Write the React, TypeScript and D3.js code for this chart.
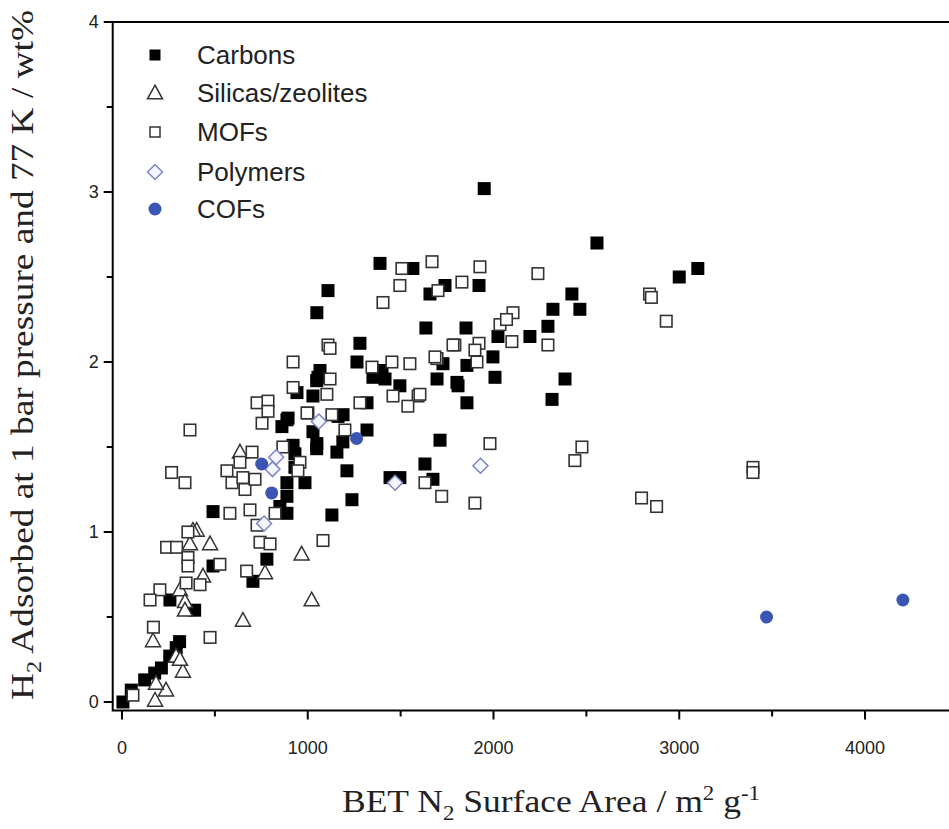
import React from "react";
import * as d3 from "d3";

const carbons: [number, number][] = [
  [1950,3.02],[2557,2.70],[3000,2.50],[3100,2.55],[1389,2.58],[1566,2.55],[1109,2.42],[1049,2.29],
  [1658,2.40],[1739,2.45],[1922,2.45],[2422,2.40],[2320,2.31],[2465,2.31],[2293,2.21],[2196,2.15],
  [2024,2.15],[1636,2.20],[1852,2.20],[1997,2.03],[1857,1.98],[1728,1.99],[1696,1.90],[1809,1.86],
  [1857,1.76],[2008,1.91],[2385,1.90],[2315,1.78],[1712,1.54],[1631,1.40],[1674,1.31],[1496,1.32],
  [1443,1.32],[1281,2.11],[1265,2.00],[1400,1.95],[1416,1.90],[1351,1.91],[1496,1.86],[1803,1.88],
  [1066,1.95],[1055,1.91],[942,1.82],[1028,1.80],[1190,1.69],[1319,1.76],[888,1.66],[861,1.62],
  [894,1.67],[1028,1.59],[1319,1.60],[1049,1.52],[1157,1.47],[1189,1.53],[1211,1.36],[1238,1.19],
  [921,1.51],[931,1.46],[931,1.38],[985,1.29],[888,1.29],[888,1.21],[888,1.11],[850,1.15],
  [1130,1.10],[490,1.12],[780,0.84],[705,0.71],[490,0.80],[258,0.60],[391,0.54],[310,0.355],
  [292,0.32],[257,0.27],[212,0.20],[176,0.17],[122,0.13],[50,0.07],[5,0.0],[1048,1.49],[1163,1.68],
  [1048,1.89]
];

const silicas: [number, number][] = [
  [366,0.93],[474,0.93],[436,0.74],[312,0.66],[339,0.59],[339,0.54],[651,0.48],[167,0.36],
  [291,0.27],[328,0.18],[237,0.07],[178,0.01],[770,0.76],[183,0.11],[967,0.87],[1021,0.60],
  [402,1.01],[635,1.47],[382,1.01],[312,0.25]
];

const mofs: [number, number][] = [
  [366,1.60],[267,1.35],[339,1.29],[727,1.76],[786,1.77],[786,1.71],[754,1.64],[1001,1.70],
  [1200,1.60],[635,1.41],[565,1.36],[592,1.29],[651,1.32],[662,1.25],[716,1.31],[700,1.47],
  [866,1.50],[958,1.41],[947,1.36],[581,1.11],[689,1.13],[727,1.04],[743,0.94],[797,0.93],
  [824,1.11],[1082,0.95],[355,1.00],[240,0.91],[294,0.91],[355,0.85],[355,0.80],[527,0.81],
  [671,0.77],[420,0.69],[204,0.66],[151,0.60],[169,0.44],[474,0.38],[59,0.04],[345,0.70],
  [1109,2.10],[921,2.00],[1346,1.97],[1453,2.00],[1550,1.99],[1459,1.80],[1594,1.80],[1539,1.74],
  [1120,1.90],[921,1.85],[1103,1.81],[1281,1.76],[1130,1.69],[996,1.70],[1507,2.55],[1669,2.59],
  [1496,2.45],[1405,2.35],[1701,2.42],[1830,2.47],[1927,2.56],[2239,2.52],[2293,2.10],[2099,2.12],
  [2035,2.22],[2105,2.29],[2070,2.25],[1792,2.10],[1922,2.11],[1900,2.07],[1911,2.00],[1696,2.02],
  [1782,2.10],[1685,2.03],[1604,1.81],[1981,1.52],[2476,1.50],[2438,1.42],[1721,1.21],[1900,1.17],
  [1631,1.29],[2797,1.20],[2878,1.15],[3397,1.38],[3397,1.35],[2840,2.40],[2850,2.38],[2930,2.24],
  [1120,2.08]
];

const polymers: [number, number][] = [
  [1060,1.65],[830,1.44],[810,1.37],[765,1.05],[1470,1.29],[1930,1.39]
];

const cofs: [number, number][] = [
  [752,1.40],[806,1.23],[1263,1.55],[3470,0.50],[4204,0.60]
];

const xTicks = [0, 1000, 2000, 3000, 4000];
const xMinorTicks = [500, 1500, 2500, 3500, 4500];
const yTicks = [0, 1, 2, 3, 4];
const yMinorTicks = [0.5, 1.5, 2.5, 3.5];
const legendLabels = ["Carbons", "Silicas/zeolites", "MOFs", "Polymers", "COFs"];

const W = 949;
const H = 829;

const x = d3.scaleLinear().domain([0, 4000]).range([122, 865]);
const y = d3.scaleLinear().domain([0, 4]).range([702, 22]);

const SQ = 13;
const BLUE = "#3b56b2";
const DIAMOND = "#7d84c4";

function Square({ cx, cy, filled }: { cx: number; cy: number; filled: boolean }) {
  return filled ? (
    <rect x={cx - SQ / 2} y={cy - SQ / 2} width={SQ} height={SQ} fill="#000" />
  ) : (
    <rect x={cx - SQ / 2 + 0.75} y={cy - SQ / 2 + 0.75} width={SQ - 1.5} height={SQ - 1.5} fill="#fff" stroke="#333" strokeWidth={1.6} />
  );
}

function Triangle({ cx, cy }: { cx: number; cy: number }) {
  const s = 15;
  const h = 13;
  const p = `M${cx},${cy - h * 0.6} L${cx + s / 2},${cy + h * 0.45} L${cx - s / 2},${cy + h * 0.45} Z`;
  return <path d={p} fill="#fff" stroke="#333" strokeWidth={1.5} />;
}

function Diamond({ cx, cy }: { cx: number; cy: number }) {
  const r = 7.5;
  const p = `M${cx},${cy - r} L${cx + r},${cy} L${cx},${cy + r} L${cx - r},${cy} Z`;
  return <path d={p} fill="#f4f6ff" stroke={DIAMOND} strokeWidth={1.5} />;
}

function Circle({ cx, cy }: { cx: number; cy: number }) {
  return <circle cx={cx} cy={cy} r={6.5} fill={BLUE} />;
}

export default function App() {
  const left = x(-50);
  const right = x(4500);
  const top = y(4);
  const bottom = y(-0.05);
  const legendX = 155;
  const legendTextX = 197;
  const legendYs = [55, 93, 132, 172, 209];

  return (
    <svg width={W} height={H} style={{ position: "absolute", left: 0, top: 0, background: "#fff" }}>
      <rect x={0} y={0} width={W} height={H} fill="#fff" />
      <g>
        {carbons.map((d, i) => <Square key={"c" + i} cx={x(d[0])} cy={y(d[1])} filled={true} />)}
        {silicas.map((d, i) => <Triangle key={"s" + i} cx={x(d[0])} cy={y(d[1])} />)}
        {mofs.map((d, i) => <Square key={"m" + i} cx={x(d[0])} cy={y(d[1])} filled={false} />)}
        {polymers.map((d, i) => <Diamond key={"p" + i} cx={x(d[0])} cy={y(d[1])} />)}
        {cofs.map((d, i) => <Circle key={"f" + i} cx={x(d[0])} cy={y(d[1])} />)}
      </g>
      <rect x={left} y={top} width={right - left} height={bottom - top} fill="none" stroke="#000" strokeWidth={2} />
      {xTicks.map((t) => (
        <g key={"xt" + t}>
          <line x1={x(t)} x2={x(t)} y1={bottom} y2={bottom + 9} stroke="#000" strokeWidth={2} />
          <text x={x(t)} y={754} textAnchor="middle" fontFamily="Liberation Sans, Arial, sans-serif" fontSize={18} fill="#222">{t}</text>
        </g>
      ))}
      {xMinorTicks.map((t) => (
        <line key={"xm" + t} x1={x(t)} x2={x(t)} y1={bottom} y2={bottom + 6} stroke="#000" strokeWidth={2} />
      ))}
      {yTicks.map((t) => (
        <g key={"yt" + t}>
          <line x1={left} x2={left - 9} y1={y(t)} y2={y(t)} stroke="#000" strokeWidth={2} />
          <text x={left - 14} y={y(t) + 6} textAnchor="end" fontFamily="Liberation Sans, Arial, sans-serif" fontSize={18} fill="#222">{t}</text>
        </g>
      ))}
      {yMinorTicks.map((t) => (
        <line key={"ym" + t} x1={left} x2={left - 6} y1={y(t)} y2={y(t)} stroke="#000" strokeWidth={2} />
      ))}
      <text x={551} y={812} textAnchor="middle" fontFamily="Liberation Serif, Times New Roman, serif" fontSize={31} fill="#222"
        textLength={418} lengthAdjust="spacingAndGlyphs">
        BET N<tspan fontSize={20} dy={8}>2</tspan><tspan dy={-8}> Surface Area / m</tspan><tspan fontSize={20} dy={-12}>2</tspan><tspan dy={12}> g</tspan><tspan fontSize={20} dy={-12}>-1</tspan>
      </text>
      <text transform={`translate(33,${355}) rotate(-90)`} textAnchor="middle" fontFamily="Liberation Serif, Times New Roman, serif" fontSize={31} fill="#222"
        textLength={690} lengthAdjust="spacingAndGlyphs">
        H<tspan fontSize={20} dy={8}>2</tspan><tspan dy={-8}> Adsorbed at 1 bar pressure and 77 K / wt%</tspan>
      </text>
      {legendLabels.map((l, i) => {
        const ly = legendYs[i];
        let m: React.ReactNode = null;
        if (i === 0) m = <rect x={legendX - 5.5} y={ly - 5.5} width={11} height={11} fill="#000" />;
        if (i === 1) m = <Triangle cx={legendX} cy={ly} />;
        if (i === 2) m = <rect x={legendX - 5} y={ly - 5} width={10} height={10} fill="#fff" stroke="#333" strokeWidth={1.5} />;
        if (i === 3) m = <Diamond cx={legendX} cy={ly} />;
        if (i === 4) m = <Circle cx={legendX} cy={ly} />;
        return (
          <g key={"lg" + i}>
            {m}
            <text x={legendTextX} y={ly + 9} fontFamily="Liberation Sans, Arial, sans-serif" fontSize={26} fill="#222">{l}</text>
          </g>
        );
      })}
    </svg>
  );
}
